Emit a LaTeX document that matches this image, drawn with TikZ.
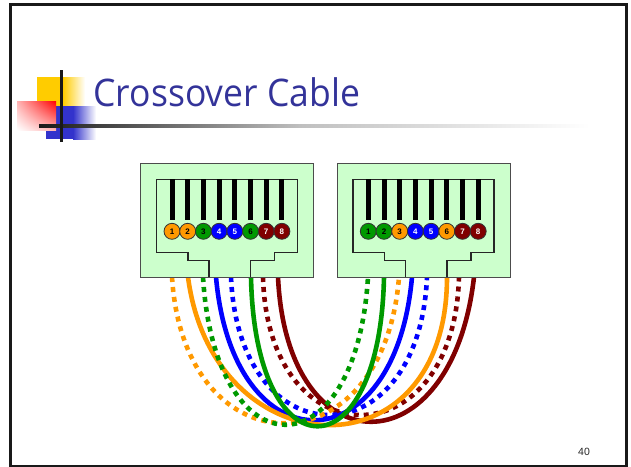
\documentclass[tikz,border=0pt]{standalone}
\usepackage{fontspec}
\setmainfont{Liberation Sans}
\newfontfamily\titlefont[FakeStretch=0.935]{Open Sans}
\usetikzlibrary{positioning, shadings}
\definecolor{wireorange}{HTML}{FF9900}
\definecolor{wiregreen}{HTML}{009900}
\definecolor{wireblue}{HTML}{0000FF}
\definecolor{wirered}{HTML}{800000}
\definecolor{socketgreen}{HTML}{CCFFCC}
\definecolor{titleblue}{HTML}{333399}
\definecolor{logoyellow}{HTML}{FFCC00}
\definecolor{logoblue}{HTML}{3333CC}
\tikzset{
  socket/.style={draw=black!70, line width=1pt, fill=socketgreen, minimum width=173pt, minimum height=114pt, inner sep=0pt},
  outline/.style={draw=black!85, line width=1.4pt},
  pin/.style={circle, draw=black!80, line width=0.8pt, minimum size=16pt, inner sep=0pt, font=\bfseries\fontsize{8}{8}\selectfont},
  bar/.style={fill=black, minimum width=5pt, minimum height=41pt, inner sep=0pt},
  wire/.style={line width=4.6pt},
  wiredot/.style={line width=4.6pt, dash pattern=on 5pt off 5pt}
}

\begin{document}
\begin{tikzpicture}[x=1pt, y=-1pt, node distance=15.7pt]
    \useasboundingbox (0,0) rectangle (631,466);
    \draw[line width=3pt, black!90] (10.5,4.5) rectangle (626.5,466);

    % logo
    \fill[logoyellow] (37,77) rectangle (63,106);
    \shade[left color=logoyellow, right color=white] (63,77) rectangle (85,106);
    \fill[logoblue] (46,106) rectangle (73,139);
    \shade[left color=logoblue, right color=white] (73,106) rectangle (96,139);
    \shade[upper right=red, lower left=white, upper left=red!30, lower right=red!30] (17,101) rectangle (56,130);
    \shade[left color=black!90, right color=black!25] (39,124) rectangle (300,127);
    \shade[left color=black!25, right color=white] (300,124) rectangle (590,127);
    \fill[black!90] (60,70) rectangle (63,142);

    \node[anchor=base west, text=titleblue, font=\titlefont\fontsize{38}{38}\selectfont] (title) at (90,106) {Crossover Cable};
    \node[font=\fontsize{10.5}{10.5}\selectfont, text=black!85] (page) at (584,452) {40};

    % wire ends, left socket
    \coordinate (l1) at (172,277);
    \coordinate (l2) at (188,277);
    \coordinate (l3) at (203,277);
    \coordinate (l4) at (216,277);
    \coordinate (l5) at (231,277);
    \coordinate (l6) at (251,277);
    \coordinate (l7) at (263,277);
    \coordinate (l8) at (278,277);

    % wire ends, right socket
    \coordinate (r1) at (368,277);
    \coordinate (r2) at (384,277);
    \coordinate (r3) at (399,277);
    \coordinate (r4) at (412,277);
    \coordinate (r5) at (427,277);
    \coordinate (r6) at (447,277);
    \coordinate (r7) at (459,277);
    \coordinate (r8) at (474,277);

    \draw[wire, wirered] (l8) .. controls +(9,193) and +(-22,193) .. (r8);
    \draw[wiredot, wirered] (l7) .. controls +(5,184) and +(-5,184) .. (r7);
    \draw[wiredot, wireblue] (l5) .. controls +(8,184) and +(-8,184) .. (r5);
    \draw[wire, wireblue] (l4) .. controls +(17,191) and +(-17,191) .. (r4);
    \draw[wire, wireorange] (l2) .. controls +(25,192) and +(0,203) .. (r6);
    \draw[wiredot, wireorange] (l1) .. controls +(12,195) and +(-15,195) .. (r3);
    \draw[wiredot, wiregreen] (l3) .. controls +(12,197) and +(-12,197) .. (r1);
    \draw[wire, wiregreen] (l6) .. controls +(4,199) and +(-4,199) .. (r2);

    % left socket
    \node[socket] (lbox) at (227.2,220) {};
    \draw[outline] (209,277) -- (209,260.5) -- (188,260.5) -- (188,252.5) -- (156.5,252.5) -- (156.5,179.5) -- (297.5,179.5) -- (297.5,252.5) -- (274.5,252.5) -- (274.5,260.5) -- (250.5,260.5) -- (250.5,277);

    \node[pin, fill=wireorange] (a1) at (172,231.3) {1};
    \node[pin, fill=wireorange] (a2) [right of=a1] {2};
    \node[pin, fill=wiregreen] (a3) [right of=a2] {3};
    \node[pin, fill=wireblue, text=white] (a4) [right of=a3] {4};
    \node[pin, fill=wireblue, text=white] (a5) [right of=a4] {5};
    \node[pin, fill=wiregreen] (a6) [right of=a5] {6};
    \node[pin, fill=wirered, text=white] (a7) [right of=a6] {7};
    \node[pin, fill=wirered, text=white] (a8) [right of=a7] {8};

    \node[bar] (ab1) at (172,199.5) {};
    \node[bar] (ab2) [right of=ab1] {};
    \node[bar] (ab3) [right of=ab2] {};
    \node[bar] (ab4) [right of=ab3] {};
    \node[bar] (ab5) [right of=ab4] {};
    \node[bar] (ab6) [right of=ab5] {};
    \node[bar] (ab7) [right of=ab6] {};
    \node[bar] (ab8) [right of=ab7] {};

    % right socket
    \node[socket] (rbox) at (423.5,220) {};
    \draw[outline] (405.3,277) -- (405.3,260.5) -- (384.3,260.5) -- (384.3,252.5) -- (352.8,252.5) -- (352.8,179.5) -- (493.8,179.5) -- (493.8,252.5) -- (470.8,252.5) -- (470.8,260.5) -- (446.8,260.5) -- (446.8,277);

    \node[pin, fill=wiregreen] (b1) at (368.3,231.3) {1};
    \node[pin, fill=wiregreen] (b2) [right of=b1] {2};
    \node[pin, fill=wireorange] (b3) [right of=b2] {3};
    \node[pin, fill=wireblue, text=white] (b4) [right of=b3] {4};
    \node[pin, fill=wireblue, text=white] (b5) [right of=b4] {5};
    \node[pin, fill=wireorange] (b6) [right of=b5] {6};
    \node[pin, fill=wirered, text=white] (b7) [right of=b6] {7};
    \node[pin, fill=wirered, text=white] (b8) [right of=b7] {8};

    \node[bar] (bb1) at (368.3,199.5) {};
    \node[bar] (bb2) [right of=bb1] {};
    \node[bar] (bb3) [right of=bb2] {};
    \node[bar] (bb4) [right of=bb3] {};
    \node[bar] (bb5) [right of=bb4] {};
    \node[bar] (bb6) [right of=bb5] {};
    \node[bar] (bb7) [right of=bb6] {};
    \node[bar] (bb8) [right of=bb7] {};
\end{tikzpicture}
\end{document}
